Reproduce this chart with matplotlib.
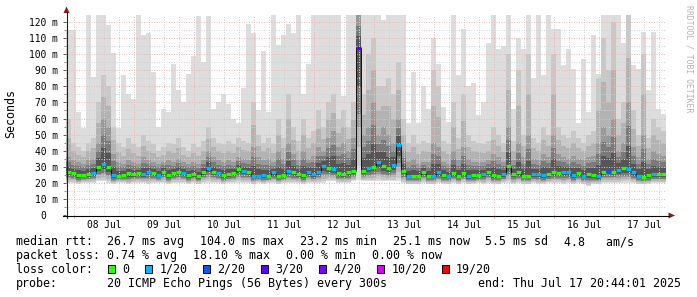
import numpy as np
import pandas as pd
import matplotlib
matplotlib.use("Agg")
import matplotlib.pyplot as plt
import matplotlib.dates as mdates
from matplotlib.lines import Line2D
from matplotlib.patches import Polygon, Rectangle
from matplotlib.ticker import MultipleLocator, FuncFormatter
from matplotlib.transforms import blended_transform_factory

W, H = 697, 297
MONO = "DejaVu Sans Mono"
plt.rcParams["font.family"] = MONO

# 120 steps of 2 hours, 20 pings each
start = pd.Timestamp("2025-07-07 20:44:01")
edges = pd.date_range(start, periods=121, freq="2h")

median_ms = [
    26.8, 26.0, 25.0, 25.0, 25.3, 26.0, 30.0, 31.5, 30.0, 25.0, 24.5, 25.0, 26.0, 25.5, 26.0,
    25.5, 27.0, 26.0, 25.0, 27.0, 25.0, 26.0, 27.0, 26.0, 25.0, 25.5, 24.0, 27.0, 29.5, 27.0,
    26.0, 25.0, 25.3, 26.0, 28.5, 27.5, 27.0, 24.5, 24.5, 25.0, 24.0, 26.5, 24.5, 25.0, 27.6,
    26.5, 25.5, 25.0, 27.0, 25.3, 27.0, 30.5, 29.5, 28.5, 26.0, 25.5, 26.5, 27.5, 104.0, 27.5,
    29.0, 30.0, 33.0, 30.5, 29.0, 31.0, 43.5, 27.5, 24.5, 24.5, 24.5, 27.0, 24.5, 24.5, 26.5,
    25.0, 24.3, 26.0, 24.3, 26.0, 24.0, 25.0, 25.0, 25.3, 27.0, 25.0, 24.5, 25.3, 30.5, 25.5,
    26.5, 24.5, 24.5, 25.3, 25.3, 25.0, 25.3, 26.5, 26.0, 26.5, 26.5, 25.0, 26.0, 24.5, 25.3,
    25.0, 24.0, 27.0, 27.6, 27.0, 28.0, 29.0, 28.5, 26.5, 24.5, 23.6, 25.0, 25.3, 25.3, 25.3,
]
loss_count = [
    0, 0, 0, 0, 0, 1, 0, 1, 0, 1, 0, 0, 0, 0, 0, 1, 1, 0, 1, 0, 0, 0, 0, 1, 0, 0, 0, 0, 1, 0,
    1, 0, 0, 0, 0, 1, 0, 1, 1, 1, 0, 1, 0, 0, 1, 0, 0, 0, 1, 1, 1, 1, 0, 1, 0, 0, 0, 0, 3, 0,
    1, 0, 1, 0, 0, 1, 1, 0, 1, 0, 0, 0, 0, 1, 1, 0, 1, 0, 0, 0, 1, 0, 0, 1, 0, 0, 0, 1, 0, 0,
    0, 0, 0, 1, 1, 1, 0, 0, 0, 1, 1, 1, 0, 1, 0, 0, 1, 0, 2, 0, 1, 0, 1, 1, 1, 0, 0, 1, 0, 0,
]
ping_min = [
    20, 20, 19, 20, 20, 20, 21, 21, 20, 19, 20, 20, 19, 20, 20, 20, 19, 20, 20, 20, 19, 20, 20, 20, 19, 20, 19, 20, 20, 20,
    20, 19, 20, 20, 20, 20, 20, 19, 20, 19, 20, 20, 19, 20, 20, 20, 20, 19, 20, 20, 20, 20, 21, 21, 20, 20, 20, 21, 22, 21,
    21, 21, 21, 21, 21, 21, 21, 20, 19, 19, 19, 20, 19, 19, 20, 19, 19, 20, 19, 20, 19, 19, 20, 19, 20, 19, 19, 20, 20, 19,
    20, 19, 19, 20, 19, 19, 20, 20, 20, 19, 20, 19, 20, 19, 18, 19, 19, 20, 20, 20, 20, 20, 20, 20, 19, 19, 19, 20, 20, 20,
]
ping_p75 = [
    36, 34, 33, 32, 34, 35, 45, 60, 55, 38, 33, 32, 34, 33, 32, 36, 34, 33, 32, 33, 34, 33, 35, 33, 32, 33, 32, 34, 40, 36,
    34, 33, 34, 33, 36, 35, 34, 42, 36, 34, 35, 33, 40, 35, 45, 38, 34, 40, 35, 37, 42, 40, 48, 52, 42, 45, 40, 48, 125, 50,
    55, 70, 50, 55, 50, 45, 60, 40, 33, 35, 32, 33, 33, 45, 42, 33, 32, 40, 34, 42, 35, 33, 33, 33, 34, 38, 36, 33, 55, 34,
    45, 36, 50, 35, 34, 38, 36, 50, 38, 36, 35, 37, 35, 34, 36, 37, 45, 55, 50, 60, 40, 45, 70, 42, 36, 50, 35, 40, 38, 37,
]
ping_p90 = [
    60, 45, 42, 40, 45, 48, 70, 87, 80, 55, 45, 42, 48, 44, 42, 50, 46, 44, 40, 42, 45, 44, 48, 42, 40, 44, 42, 46, 55, 48,
    45, 44, 46, 44, 48, 46, 45, 70, 50, 45, 48, 44, 60, 48, 75, 55, 46, 60, 48, 52, 65, 55, 70, 75, 60, 65, 55, 70, 125, 75,
    100, 110, 80, 80, 85, 75, 95, 60, 45, 50, 44, 46, 45, 90, 80, 46, 44, 70, 48, 75, 50, 46, 45, 44, 46, 55, 50, 45, 100, 46,
    90, 50, 100, 48, 45, 55, 50, 100, 55, 50, 48, 52, 48, 45, 50, 52, 85, 110, 90, 120, 60, 70, 125, 65, 50, 100, 48, 60, 55, 52,
]
ping_max = [
    115, 115, 64, 54, 125, 86, 125, 125, 118, 101, 54, 87, 75, 72, 125, 112, 113, 89, 55, 66, 64, 94, 78, 70, 88, 99, 124, 95, 124, 66,
    70, 75, 69, 60, 57, 79, 119, 113, 65, 102, 64, 125, 106, 112, 119, 113, 125, 75, 94, 125, 125, 125, 125, 125, 125, 74, 125, 125, 125, 125,
    125, 125, 125, 121, 125, 125, 125, 125, 57, 89, 57, 80, 66, 110, 94, 67, 58, 125, 87, 116, 80, 82, 62, 70, 107, 125, 103, 105, 125, 66,
    110, 103, 125, 85, 125, 87, 125, 116, 116, 93, 103, 91, 57, 97, 64, 112, 88, 125, 125, 125, 125, 107, 125, 93, 91, 114, 78, 114, 66, 63,
]

loss_steps = [0, 1, 2, 3, 4, 10, 19]
loss_labels = ["0", "1/20", "2/20", "3/20", "4/20", "10/20", "19/20"]
loss_colors = ["#26ff00", "#00b8ff", "#0059ff", "#5e00ff", "#7e00ff", "#dd00ff", "#ff0000"]

rtt_items = ["26.7 ms avg", "104.0 ms max", "23.2 ms min", "25.1 ms now", "5.5 ms sd", "4.8   am/s"]
loss_items = ["0.74 % avg", "18.10 % max", "0.00 % min", "0.00 % now"]
probe_text = "20 ICMP Echo Pings (56 Bytes) every 300s"
end_text = "end: Thu Jul 17 20:44:01 2025"


def fx(x):
    return x / W


def fy(y):
    return 1 - y / H


def ext(a):
    return np.append(a, a[-1])


def color_for(c):
    idx = max(i for i, s in enumerate(loss_steps) if c >= s)
    return loss_colors[idx]


fig = plt.figure(figsize=(W / 100, H / 100), dpi=100, facecolor="white")
ax = fig.add_axes([fx(66), fy(215), fx(666) - fx(66), 200 / H])
ax.set_facecolor("white")

med = np.array(median_ms, dtype=float)
lo = np.array(ping_min, dtype=float)
p75 = np.maximum(np.array(ping_p75, dtype=float), med)
p90 = np.maximum(np.array(ping_p90, dtype=float), p75)
hi = np.maximum(np.array(ping_max, dtype=float), p90)
below = med - lo
above = p75 - med

# smoke: lighter outside, darker towards the median
layers = [
    (lo, hi, "#dddddd"),
    (lo + 0.1 * below, p90, "#c8c8c8"),
    (lo + 0.25 * below, p75 + 0.5 * (p90 - p75), "#b3b3b3"),
    (lo + 0.4 * below, p75, "#999999"),
    (med - 0.5 * below, med + 0.65 * above, "#7a7a7a"),
    (med - 0.3 * below, med + 0.35 * above, "#555555"),
]
for k, (a, b, c) in enumerate(layers):
    ax.fill_between(edges, ext(a), ext(b), step="post", color=c, lw=0, zorder=1 + 0.1 * k)

# median: black connectors + loss-coloured segments
ax.step(edges, ext(med), where="post", color="#111111", lw=0.7, zorder=4)
ax.hlines(med, edges[:-1], edges[1:], colors=[color_for(c) for c in loss_count],
          lw=2.3, zorder=5)

ax.set_xlim(edges[0], edges[-1])
ax.set_ylim(0, 124.4)

ax.xaxis.set_major_locator(mdates.DayLocator())
ax.xaxis.set_minor_locator(mdates.HourLocator(byhour=[6, 12, 18]))
ax.yaxis.set_major_locator(MultipleLocator(10))
ax.yaxis.set_minor_locator(MultipleLocator(5))
ax.yaxis.set_major_formatter(FuncFormatter(lambda v, p: f"{v:.0f} m" if v > 0 else "0  "))

ax.set_axisbelow(False)
dots = (0, (1, 1.5))
ax.grid(which="major", color="#eab6b6", linestyle=dots, lw=0.72)
ax.grid(which="minor", color="#d2d2d2", linestyle=dots, lw=0.72)

ax.tick_params(axis="x", which="major", direction="out", length=2.2, width=0.72,
               color="#e6a0a0", labelbottom=False)
ax.tick_params(axis="x", which="minor", length=0)
ax.tick_params(axis="y", which="major", direction="out", length=2, width=0.72,
               color="#606060", labelsize=6.9, pad=3.6)
ax.tick_params(axis="y", which="minor", direction="out", length=1.4, width=0.72, color="#909090")
for s in ax.spines.values():
    s.set_visible(False)

# day labels at noon
trans = blended_transform_factory(ax.transData, ax.transAxes)
for t in pd.date_range("2025-07-08 12:00", "2025-07-17 12:00", freq="D"):
    ax.text(mdates.date2num(t.to_pydatetime()), -0.05, t.strftime("%d %b"),
            transform=trans, ha="center", va="center", fontsize=6.9)

# axis lines with arrows
fig.add_artist(Line2D([fx(66.5), fx(66.5)], [fy(218), fy(12)], color="#202020", lw=0.8))
fig.add_artist(Line2D([fx(62.5), fx(669)], [fy(215.5), fy(215.5)], color="#000000", lw=0.8))
arrow_c = "#8b1a1a"
fig.add_artist(Polygon([(fx(66.5), fy(6.5)), (fx(63.5), fy(13)), (fx(69.5), fy(13))],
                       closed=True, color=arrow_c, lw=0))
fig.add_artist(Polygon([(fx(675), fy(215.5)), (fx(668.5), fy(212.5)), (fx(668.5), fy(218.5))],
                       closed=True, color=arrow_c, lw=0))

fig.text(fx(11), fy(114), "Seconds", rotation=90, ha="center", va="center", fontsize=8.35)
fig.text(fx(688.5), fy(59), "RRDTOOL / TOBI OETIKER", rotation=270, ha="center",
         va="center", fontsize=5.9, color="#b4b4b4")

# legend block
fs = 8.35
cw = 6.98
base = [245.3, 259.1, 272.9, 286.7]
col = 107.3


def row(y, label, items, gap=16.0):
    fig.text(fx(16), fy(y), label, fontsize=fs, va="baseline", ha="left")
    x = col
    for it in items:
        fig.text(fx(x), fy(y), it, fontsize=fs, va="baseline", ha="left")
        x += len(it) * cw + gap


row(base[0], "median rtt:", rtt_items)
row(base[1], "packet loss:", loss_items)

fig.text(fx(16), fy(base[2]), "loss color:", fontsize=fs, va="baseline", ha="left")
bx = 108.0
for lab, c in zip(loss_labels, loss_colors):
    fig.add_artist(Rectangle((fx(bx), fy(base[2])), 7 / W, 7.5 / H, facecolor=c,
                             edgecolor="#000000", lw=0.7))
    tx = bx + 14.5
    fig.text(fx(tx), fy(base[2]), lab, fontsize=fs, va="baseline", ha="left")
    bx = tx + len(lab) * cw + 15.5

fig.text(fx(16), fy(base[3]), "probe:", fontsize=fs, va="baseline", ha="left")
fig.text(fx(col), fy(base[3]), probe_text, fontsize=fs, va="baseline", ha="left")
fig.text(fx(681), fy(base[3]), end_text, fontsize=fs, va="baseline", ha="right")

fig.savefig("out.png", dpi=100, facecolor="white")
